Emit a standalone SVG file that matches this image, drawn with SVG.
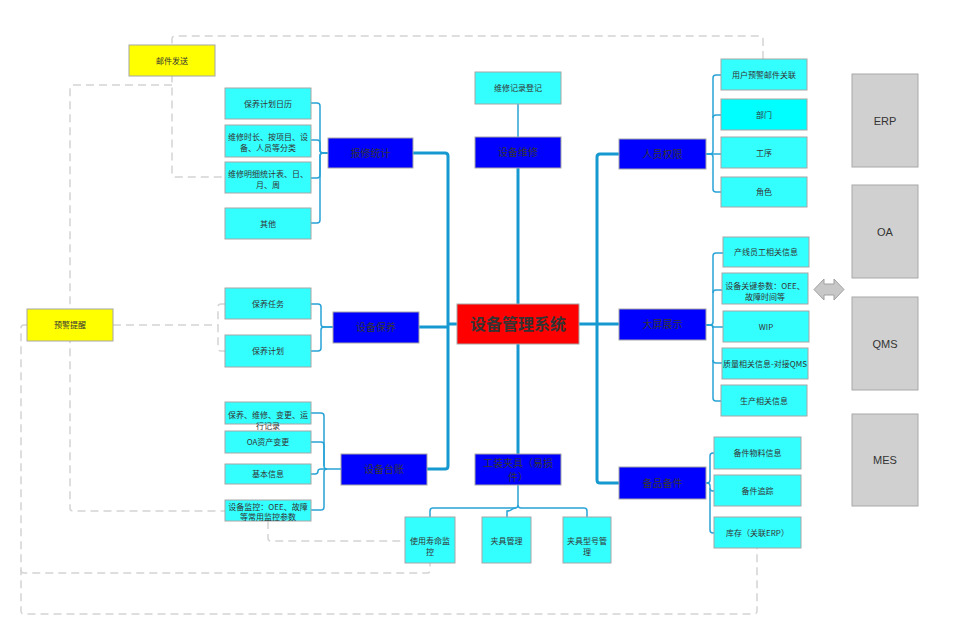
<svg xmlns="http://www.w3.org/2000/svg" width="966" height="628" viewBox="0 0 966 628">
<style>
rect{stroke:#a6a6a6;stroke-width:1}
.bg{fill:#fff;stroke:none}
.cy{fill:#33ffff}
.cy2{fill:#00ffff}
.bl{fill:#0000ff}
.ye{fill:#ffff00}
.rd{fill:#ff0000}
.gr{fill:#d0d0d0;stroke:#a8a8a8}
text{font-family:"Noto Sans CJK SC","Noto Sans",sans-serif;fill:#333;text-anchor:middle}
.s{font-size:8px}
.m{font-size:10px}
.l{font-size:16px;font-weight:bold}
.e{font-family:"Liberation Sans",Arial,sans-serif;font-size:11px}
.dash{fill:none;stroke:#d4d4d4;stroke-width:1.5;stroke-dasharray:8 5}
.thin{fill:none;stroke:#29a3d6;stroke-width:1.5}
.thick{fill:none;stroke:#1599d0;stroke-width:3}
</style>
<rect class="bg" x="0" y="0" width="966" height="628"/>
<g id="connectors">
  <path class="dash" d="M763,59 V39 Q763,36 760,36 H175 Q172,36 172,39 V174 Q172,177 175,177 H225"/>
  <path class="dash" d="M172,85 H73 Q70,85 70,88 V508 Q70,511 73,511 H225"/>
  <path class="dash" d="M113,325 H218"/>
  <path class="dash" d="M225,304 H221 Q218,304 218,307 V348 Q218,351 221,351 H225"/>
  <path class="dash" d="M27,325 H24 Q21,325 21,328 V611 Q21,614 24,614 H754 Q757,614 757,611 V548"/>
  <path class="dash" d="M21,570 Q21,573 24,573 H427 Q430,573 430,570 V563"/>
  <path class="dash" d="M268,521 V538 Q268,541 271,541 H405"/>

  <path class="thin" d="M311,103 H317 Q320,103 320,106 V150 Q320,153 323,153 H328"/>
  <path class="thin" d="M311,140 H317 Q320,140 320,143 V150 Q320,153 323,153 H328"/>
  <path class="thin" d="M311,178 H317 Q320,178 320,175 V156 Q320,153 323,153 H328"/>
  <path class="thin" d="M311,223 H317 Q320,223 320,220 V156 Q320,153 323,153 H328"/>

  <path class="thin" d="M311,304 H318 Q321,304 321,307 V324 Q321,327 324,327 H333"/>
  <path class="thin" d="M311,351 H318 Q321,351 321,348 V330 Q321,327 324,327 H333"/>

  <path class="thin" d="M311,413 H321 Q324,413 324,416 V466 Q324,469 327,469 H341"/>
  <path class="thin" d="M311,442 H321 Q324,442 324,445 V466"/>
  <path class="thin" d="M311,474 H315 Q318,474 318,471 Q318,469 321,469 H327"/>
  <path class="thin" d="M311,510 H321 Q324,510 324,507 V472 Q324,469 327,469"/>

  <path class="thin" d="M518,104 V137"/>

  <path class="thin" d="M518,485 V505 Q518,508 515,508 H433 Q430,508 430,511 V517"/>
  <path class="thin" d="M518,505 Q518,508 521,508 H584 Q587,508 587,511 V517"/>
  <path class="thin" d="M516,508 Q513,508 511,510 Q510,511 507,511 V517"/>

  <path class="thin" d="M706,154 H721"/>
  <path class="thin" d="M706,154 H710 Q713,154 713,151 V78 Q713,75 716,75 H721"/>
  <path class="thin" d="M713,118 Q713,115 716,115 H721"/>
  <path class="thin" d="M706,154 H710 Q713,154 713,157 V189 Q713,192 716,192 H721"/>

  <path class="thin" d="M706,325 H710 Q713,325 713,322 V256 Q713,253 716,253 H723"/>
  <path class="thin" d="M713,293 Q713,290 716,290 H722"/>
  <path class="thin" d="M706,325 H710 Q713,325 713,327 H723"/>
  <path class="thin" d="M706,325 H710 Q713,325 713,328 V398 Q713,401 716,401 H721"/>
  <path class="thin" d="M713,360 Q713,363 716,363 H722"/>

  <path class="thin" d="M706,483 H707 Q710,483 710,480 V456 Q710,453 713,453 H714"/>
  <path class="thin" d="M706,483 H707 Q710,483 710,486 V530 Q710,533 713,533 H714"/>
  <path class="thin" d="M710,488 Q710,491 713,491 H714"/>

  <path class="thick" d="M413,153 H445 Q448,153 448,156 V466 Q448,469 445,469 H427"/>
  <path class="thick" d="M419,327 H448"/>
  <path class="thick" d="M448,324 H457"/>
  <path class="thick" d="M518,168 V304"/>
  <path class="thick" d="M518,344 V454"/>
  <path class="thick" d="M579,324 H619"/>
  <path class="thick" d="M619,154 H600 Q597,154 597,157 V480 Q597,483 600,483 H619"/>
</g>

<g id="mail"><rect class="ye" x="129" y="45" width="86" height="31"/><text class="s" x="172" y="63.5">邮件发送</text></g>
<g id="alert"><rect class="ye" x="27" y="309" width="86" height="32"/><text class="s" x="70" y="328">预警提醒</text></g>

<g id="c1"><rect class="cy" x="225" y="88" width="86" height="31"/><text class="s" x="268" y="106.5">保养计划日历</text></g>
<g id="c2"><rect class="cy" x="225" y="125" width="86" height="32"/><text class="s" x="268" y="140">维修时长、按项目、设</text><text class="s" x="268" y="151">备、人员等分类</text></g>
<g id="c3"><rect class="cy" x="225" y="162" width="86" height="31"/><text class="s" x="268" y="177">维修明细统计表、日、</text><text class="s" x="268" y="188">月、周</text></g>
<g id="c4"><rect class="cy" x="225" y="208" width="86" height="31"/><text class="s" x="268" y="226.5">其他</text></g>
<g id="b1"><rect class="bl" x="328" y="138" width="85" height="30"/><text class="m" x="370.5" y="156.8">报修统计</text></g>

<g id="c5"><rect class="cy" x="225" y="288" width="86" height="31"/><text class="s" x="268" y="306.5">保养任务</text></g>
<g id="c6"><rect class="cy" x="225" y="335" width="86" height="32"/><text class="s" x="268" y="354">保养计划</text></g>
<g id="b2"><rect class="bl" x="333" y="312" width="86" height="31"/><text class="m" x="376" y="331.3">设备保养</text></g>

<g id="c7"><rect class="cy" x="225" y="402" width="86" height="22"/><text class="s" x="268" y="418">保养、维修、变更、运</text><text class="s" x="268" y="429">行记录</text></g>
<g id="c8"><rect class="cy" x="225" y="431" width="86" height="22"/><text class="s" x="268" y="445">OA资产变更</text></g>
<g id="c9"><rect class="cy" x="225" y="464" width="86" height="20"/><text class="s" x="268" y="477">基本信息</text></g>
<g id="c10"><rect class="cy" x="225" y="500" width="86" height="21"/><text class="s" x="268" y="510">设备监控：OEE、故障</text><text class="s" x="268" y="520">等常用监控参数</text></g>
<g id="b3"><rect class="bl" x="341" y="454" width="86" height="31"/><text class="m" x="384" y="473.3">设备台账</text></g>

<g id="c11"><rect class="cy" x="475" y="72" width="86" height="32"/><text class="s" x="518" y="91">维修记录登记</text></g>
<g id="b4"><rect class="bl" x="475" y="137" width="86" height="31"/><text class="m" x="518" y="156.3">设备维修</text></g>
<g id="root"><rect class="rd" x="457" y="304" width="122" height="40"/><text class="l" x="518" y="330">设备管理系统</text></g>
<g id="b5"><rect class="bl" x="475" y="454" width="86" height="31"/><text class="m" x="518" y="466.8">工装夹具（易损</text><text class="m" x="518" y="480.8">件）</text></g>

<g id="c12"><rect class="cy" x="405" y="517" width="50" height="46"/><text class="s" x="430" y="544">使用寿命监</text><text class="s" x="430" y="555">控</text></g>
<g id="c13"><rect class="cy" x="482" y="517" width="49" height="46"/><text class="s" x="506.5" y="544">夹具管理</text></g>
<g id="c14"><rect class="cy" x="563" y="517" width="48" height="46"/><text class="s" x="587" y="544">夹具型号管</text><text class="s" x="587" y="555">理</text></g>

<g id="r1"><rect class="bl" x="619" y="139" width="87" height="30"/><text class="m" x="662.5" y="157.8">人员权限</text></g>
<g id="c15"><rect class="cy" x="721" y="59" width="86" height="31"/><text class="s" x="764" y="77.5">用户预警邮件关联</text></g>
<g id="c16"><rect class="cy2" x="721" y="99" width="86" height="31"/><text class="s" x="764" y="117.5">部门</text></g>
<g id="c17"><rect class="cy" x="721" y="137" width="86" height="31"/><text class="s" x="764" y="155.5">工序</text></g>
<g id="c18"><rect class="cy" x="721" y="177" width="86" height="30"/><text class="s" x="764" y="195">角色</text></g>

<g id="r2"><rect class="bl" x="619" y="309" width="87" height="31"/><text class="m" x="662.5" y="328.3">大屏展示</text></g>
<g id="c19"><rect class="cy" x="723" y="237" width="86" height="30"/><text class="s" x="766" y="255">产线员工相关信息</text></g>
<g id="c20"><rect class="cy" x="722" y="273" width="86" height="31"/><text class="s" x="765" y="289">设备关键参数：OEE、</text><text class="s" x="765" y="300">故障时间等</text></g>
<g id="c21"><rect class="cy" x="723" y="311" width="86" height="31"/><text class="s" x="766" y="329.5">WIP</text></g>
<g id="c22"><rect class="cy" x="722" y="348" width="86" height="31"/><text class="s" x="765" y="366.5">质量相关信息-对接QMS</text></g>
<g id="c23"><rect class="cy" x="721" y="385" width="86" height="31"/><text class="s" x="764" y="403.5">生产相关信息</text></g>

<g id="r3"><rect class="bl" x="619" y="467" width="87" height="32"/><text class="m" x="662.5" y="486.8">备品备件</text></g>
<g id="c24"><rect class="cy" x="714" y="437" width="87" height="32"/><text class="s" x="757.5" y="456">备件物料信息</text></g>
<g id="c25"><rect class="cy" x="714" y="475" width="87" height="31"/><text class="s" x="757.5" y="493.5">备件追踪</text></g>
<g id="c26"><rect class="cy" x="714" y="517" width="87" height="31"/><text class="s" x="757.5" y="535.5">库存（关联ERP）</text></g>

<g id="arrow"><polygon points="814,289.5 824,279 824,284 834,284 834,279 844,289.5 834,300 834,295 824,295 824,300" fill="#c8c8c8" stroke="#a0a0a0" stroke-width="1"/></g>
<g id="erp"><rect class="gr" x="852" y="74" width="66" height="93"/><text class="e" x="885" y="124.5">ERP</text></g>
<g id="oa"><rect class="gr" x="852" y="185" width="66" height="93"/><text class="e" x="885" y="235.5">OA</text></g>
<g id="qms"><rect class="gr" x="852" y="297" width="66" height="93"/><text class="e" x="885" y="347.5">QMS</text></g>
<g id="mes"><rect class="gr" x="852" y="414" width="66" height="92"/><text class="e" x="885" y="464">MES</text></g>
</svg>
